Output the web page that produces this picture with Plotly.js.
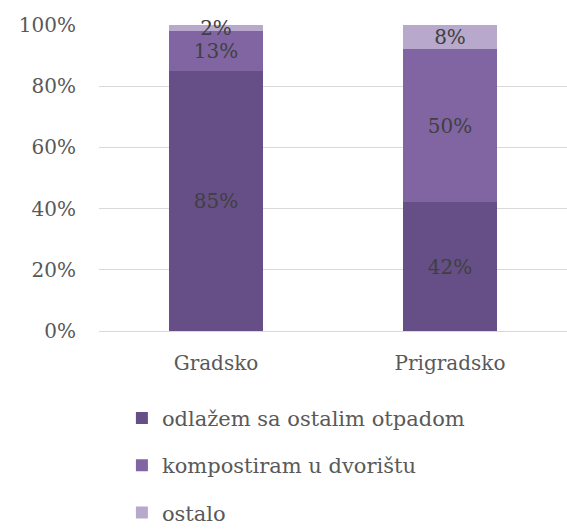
<!DOCTYPE html>
<html><head><meta charset="utf-8">
<script src="https://cdn.plot.ly/plotly-3.0.1.min.js"></script>
<style>html,body{margin:0;padding:0;background:#fff;}</style>
</head><body><div id="chart" style="width:567px;height:529px;"></div>
<script>
const categories = ["Gradsko", "Prigradsko"];
const seriesNames = ["odlažem sa ostalim otpadom", "kompostiram u dvorištu", "ostalo"];
const odlazem = [85, 42];
const kompostiram = [13, 50];
const ostalo = [2, 8];
const seriesValues = [odlazem, kompostiram, ostalo];
const colors = ["#654f86", "#8065a2", "#b8a9cc"];
const yTicks = [0, 20, 40, 60, 80, 100];
const yTickLabels = ["0%", "20%", "40%", "60%", "80%", "100%"];

const FONT = "DejaVu Serif";
const traces = seriesValues.map((vals, i) => ({
  type: "bar",
  name: seriesNames[i],
  x: categories,
  y: vals,
  width: 0.4,
  marker: {color: colors[i]},
  text: vals.map(v => v + "%"),
  texttemplate: "%{text}",
  textposition: "inside",
  insidetextanchor: "middle",
  constraintext: "none",
  cliponaxis: false,
  textfont: {family: FONT, size: 20, color: "#404040"},
  legendgroup: "g" + i,
  hoverinfo: "skip"
}));

const layout = {
  width: 567, height: 529,
  margin: {l: 99, r: 0, t: 25, b: 198, autoexpand: false},
  barmode: "stack",
  paper_bgcolor: "#fff", plot_bgcolor: "#fff",
  font: {family: FONT, size: 20, color: "#595959"},
  xaxis: {
    range: [-0.5, 1.5], showgrid: false, zeroline: false, showline: false,
    ticks: "", ticklabelstandoff: 18,
    tickfont: {family: FONT, size: 20, color: "#595959"}
  },
  yaxis: {
    range: [0, 100], tickvals: yTicks, ticktext: yTickLabels,
    showgrid: true, gridcolor: "#d9d9d9", gridwidth: 1,
    zeroline: true, zerolinecolor: "#d9d9d9", showline: false, ticks: "",
    ticklabelstandoff: 22,
    tickfont: {family: FONT, size: 20, color: "#595959"}
  },
  showlegend: true,
  legend: {
    orientation: "v",
    xref: "container", yref: "container",
    x: 0.215, xanchor: "left", y: 0.248, yanchor: "top",
    traceorder: "grouped", tracegroupgap: 17,
    font: {family: FONT, size: 21, color: "#595959"},
    itemwidth: 30, bgcolor: "rgba(0,0,0,0)"
  }
};
Plotly.newPlot("chart", traces, layout, {displayModeBar: false, staticPlot: true});
</script></body></html>
